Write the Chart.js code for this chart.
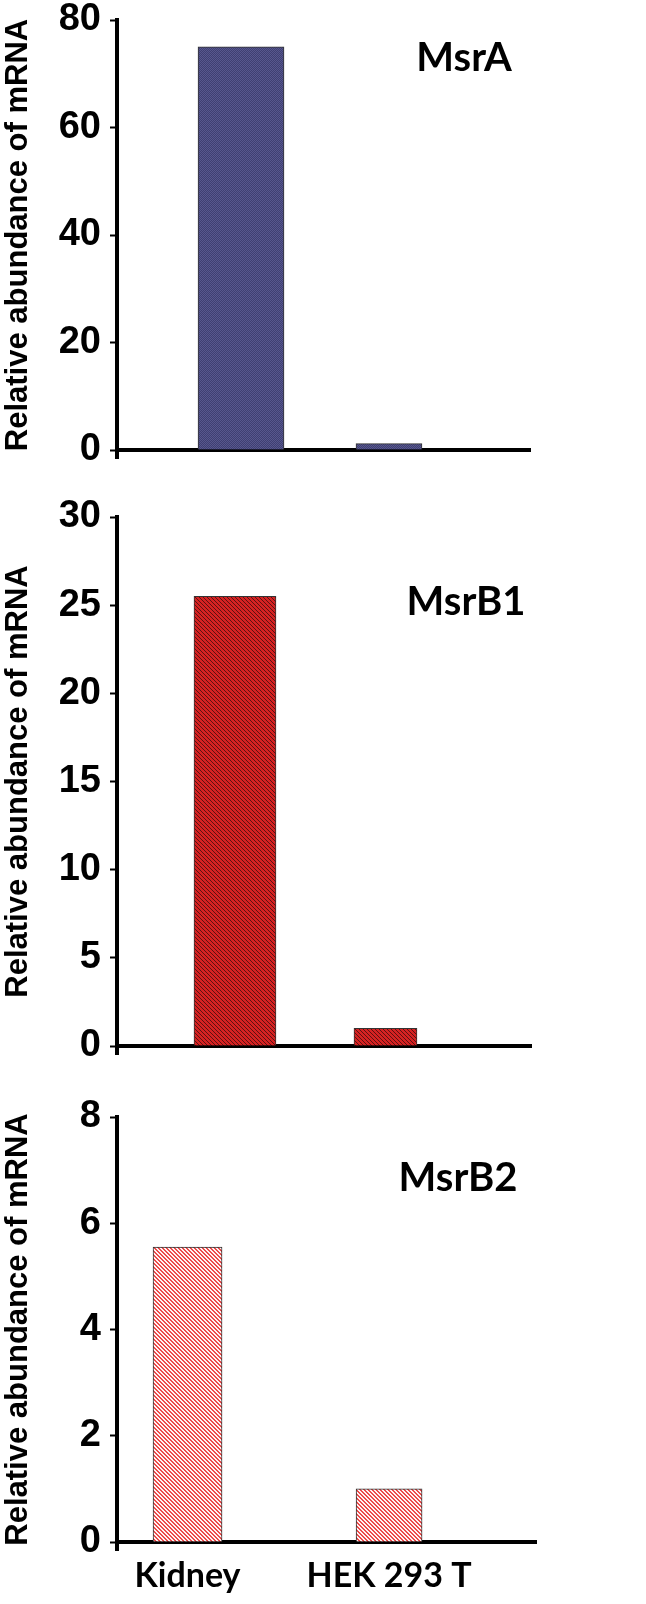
<!DOCTYPE html>
<html>
<head>
<meta charset="utf-8">
<script src="https://cdn.jsdelivr.net/npm/chart.js@4.4.1/dist/chart.umd.min.js"></script>
<style>
  body { margin: 0; background: #fff; }
  .panel { position: absolute; left: 0; width: 646px; }
</style>
</head>
<body>
<div class="panel" style="top:0"><canvas id="chartA" width="646" height="470"></canvas></div>
<div class="panel" style="top:490px"><canvas id="chartB1" width="646" height="575"></canvas></div>
<div class="panel" style="top:1090px"><canvas id="chartB2" width="646" height="514"></canvas></div>
<script>
// Data
const categories = ['Kidney', 'HEK 293 T'];
const msrA = [75, 1.2];
const msrB1 = [25.5, 1.0];
const msrB2 = [5.55, 1.0];
const ticksA = [0, 20, 40, 60, 80];
const ticksB1 = [0, 5, 10, 15, 20, 25, 30];
const ticksB2 = [0, 2, 4, 6, 8];
const yTitle = 'Relative abundance of mRNA';

const arial = "'Liberation Sans', Arial, sans-serif";
const calibri = "Lato, 'Open Sans', sans-serif";

// small canvas patterns for the bar fills
function checkerPattern(a, b) {
    const c = document.createElement('canvas');
    c.width = 2; c.height = 2;
    const g = c.getContext('2d');
    g.fillStyle = a; g.fillRect(0, 0, 2, 2);
    g.fillStyle = b; g.fillRect(0, 0, 1, 1); g.fillRect(1, 1, 1, 1);
    return g.createPattern(c, 'repeat');
}

function stripePattern(bg, line, thick) {
    const c = document.createElement('canvas');
    c.width = 4; c.height = 4;
    const g = c.getContext('2d');
    g.fillStyle = bg; g.fillRect(0, 0, 4, 4);
    g.fillStyle = line;
    for (let i = 0; i < 4; i++) {
        for (let t = 0; t < thick; t++) g.fillRect((i + t) % 4, i, 1, 1);
    }
    return g.createPattern(c, 'repeat');
}

// gene name written inside the plot
const geneLabel = {
    id: 'geneLabel',
    afterDraw(chart, args, opts) {
        const ctx = chart.ctx;
        ctx.save();
        ctx.font = 'bold ' + opts.size + 'px ' + calibri;
        ctx.fillStyle = '#000';
        ctx.textAlign = 'center';
        ctx.textBaseline = 'middle';
        ctx.fillText(opts.text, opts.x, opts.y);
        ctx.restore();
    }
};

// little stub of the y axis below the x axis
const axisStub = {
    id: 'axisStub',
    afterDraw(chart) {
        const ctx = chart.ctx;
        const a = chart.chartArea;
        ctx.save();
        ctx.strokeStyle = '#000';
        ctx.lineWidth = 4;
        ctx.beginPath();
        ctx.moveTo(a.left, a.bottom);
        ctx.lineTo(a.left, a.bottom + 9);
        ctx.stroke();
        ctx.restore();
    }
};

function makePanel(p) {
    const datasets = categories.map((c, i) => ({
        label: c,
        data: [{ x: i, y: p.values[i] }],
        backgroundColor: p.fill,
        borderColor: '#333',
        borderWidth: 1,
        barThickness: p.widths[i],
        grouped: false
    }));

    new Chart(document.getElementById(p.id), {
        type: 'bar',
        data: { datasets: datasets },
        options: {
            responsive: false,
            animation: false,
            events: [],
            layout: { padding: { left: 0, top: p.top, right: 646 - p.right, bottom: 0 } },
            plugins: {
                legend: { display: false },
                tooltip: { enabled: false },
                geneLabel: p.gene
            },
            scales: {
                x: {
                    type: 'linear',
                    offset: false,
                    min: p.xMin,
                    max: p.xMax,
                    grid: { display: false, drawTicks: false, offset: false },
                    border: { display: true, color: '#000', width: 4 },
                    ticks: {
                        display: p.showLabels,
                        stepSize: 1,
                        includeBounds: false,
                        autoSkip: false,
                        maxRotation: 0,
                        padding: 14,
                        color: '#000',
                        font: { family: calibri, size: 34, weight: 'bold' },
                        callback: v => categories[v] || ''
                    },
                    afterFit(s) {
                        s.height = p.xHeight;
                        s.paddingLeft = 0; s.paddingRight = 0;
                    }
                },
                y: {
                    min: 0,
                    max: p.ticks[p.ticks.length - 1],
                    grid: { display: true, drawOnChartArea: false, drawTicks: true, tickLength: 7, tickWidth: 2, tickColor: '#000' },
                    border: { display: true, color: '#000', width: 4 },
                    ticks: {
                        stepSize: p.ticks[1] - p.ticks[0],
                        padding: 9,
                        color: '#000',
                        font: { family: arial, size: 38, weight: 'bold' }
                    },
                    title: {
                        display: true,
                        text: yTitle,
                        color: '#000',
                        padding: 0,
                        font: { family: arial, size: 31, weight: 'bold' }
                    },
                    afterFit(s) {
                        s.width = 117;
                        s.paddingTop = 0; s.paddingBottom = 0;
                    }
                }
            }
        },
        plugins: [geneLabel, axisStub]
    });
}

makePanel({
    id: 'chartA', values: msrA, ticks: ticksA,
    fill: checkerPattern('#3f3f72', '#57578e'),
    top: 20, xHeight: 20, right: 530,
    xMin: -0.838, xMax: 1.953, widths: [86, 66],
    showLabels: false,
    gene: { text: 'MsrA', x: 464, y: 58, size: 40 }
});

makePanel({
    id: 'chartB1', values: msrB1, ticks: ticksB1,
    fill: stripePattern('#d62222', '#5c1212', 1),
    top: 27, xHeight: 19, right: 531,
    xMin: -0.784, xMax: 1.967, widths: [82, 63],
    showLabels: false,
    gene: { text: 'MsrB1', x: 466, y: 112, size: 40 }
});

makePanel({
    id: 'chartB2', values: msrB2, ticks: ticksB2,
    fill: stripePattern('#fff2f2', '#ec4a4a', 2),
    top: 27, xHeight: 62, right: 536,
    xMin: -0.350, xMax: 1.729, widths: [69, 66],
    showLabels: true,
    gene: { text: 'MsrB2', x: 458, y: 88, size: 40 }
});
</script>
</body>
</html>
